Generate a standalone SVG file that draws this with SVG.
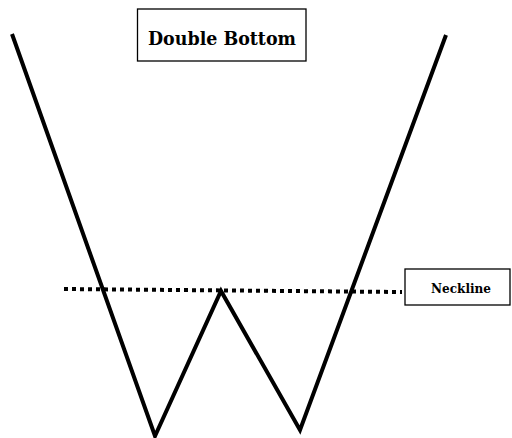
<svg xmlns="http://www.w3.org/2000/svg" width="512" height="438" viewBox="0 0 512 438">
<style>
.box{fill:#fff;stroke:#000;stroke-width:1.3}
.t{font-family:"DejaVu Serif","Liberation Serif",serif;font-weight:600;fill:#000}
</style>
<rect width="512" height="438" fill="#fff"/>
<g id="connectors">
<path id="w" d="M12,34 L155,436 L221,291 L300,430 L446,35" fill="none" stroke="#000" stroke-width="4" stroke-linejoin="miter"/>
<line id="neckline-dots" x1="64" y1="289" x2="402" y2="292" stroke="#000" stroke-width="4" stroke-dasharray="4 4"/>
</g>
<g id="title">
<rect class="box" x="137.5" y="9" width="168.5" height="52"/>
<text class="t" x="222" y="45" font-size="19" text-anchor="middle" textLength="148" lengthAdjust="spacingAndGlyphs">Double Bottom</text>
</g>
<g id="neckline">
<rect class="box" x="405" y="269" width="105" height="36"/>
<text class="t" x="461" y="293" font-size="12" text-anchor="middle" textLength="60" lengthAdjust="spacingAndGlyphs">Neckline</text>
</g>
</svg>
